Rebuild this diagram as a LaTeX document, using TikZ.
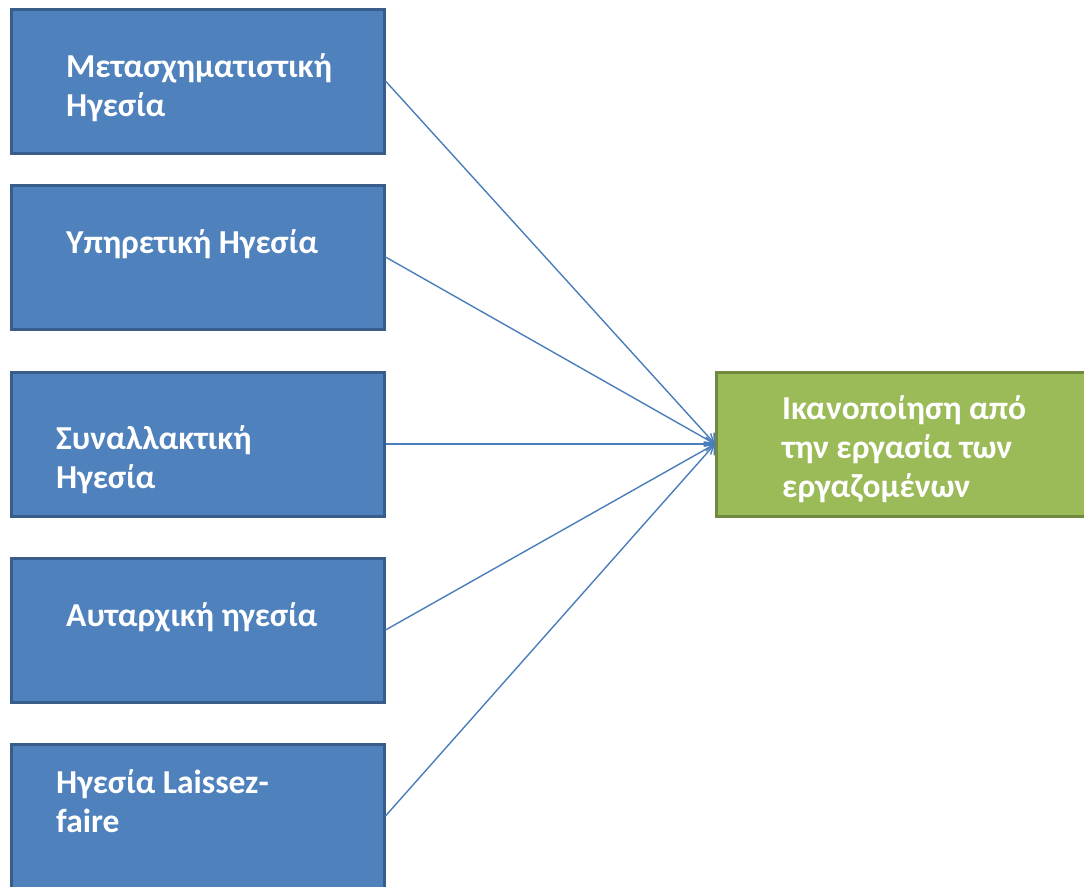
\documentclass[tikz,border=0pt]{standalone}
\usepackage{fontspec}
\setmainfont{Carlito}
\usepackage{xcolor}
\usetikzlibrary{arrows.meta,positioning}

\definecolor{boxblue}{HTML}{4F81BD}
\definecolor{boxblueline}{HTML}{385D8A}
\definecolor{boxgreen}{HTML}{9BBB59}
\definecolor{boxgreenline}{HTML}{71893F}
\definecolor{connblue}{HTML}{4A7EBB}

\tikzset{
    stylebox/.style={draw=boxblueline, fill=boxblue, line width=3pt, minimum width=373pt, minimum height=144pt},
    outcomebox/.style={draw=boxgreenline, fill=boxgreen, line width=3pt, minimum width=369pt, minimum height=144pt},
    lbl/.style={font=\fontsize{33.5}{39}\selectfont\bfseries, text=white, align=left, inner sep=0pt},
    conn/.style={draw=connblue, line width=1.4pt, -{Straight Barb[length=8pt,width=14pt,line width=1.4pt]}}
}

\begin{document}
\begin{tikzpicture}[x=1pt, y=-1pt]
    \useasboundingbox (0,0) rectangle (1084,886);

    % leadership styles
    \node[stylebox] (trans) at (197.5,81) {};
    \node[stylebox] (serv) at (197.5,257) {};
    \node[stylebox] (transa) at (197.5,444) {};
    \node[stylebox] (auto) at (197.5,630) {};
    \node[stylebox] (laissez) at (197.5,816) {};

    % outcome
    \node[outcomebox] (sat) at (901,444) {};

    % labels (base = last line)
    \node[lbl, anchor=base west] (transtxt) at (66,116) {Μετασχηματιστική\\Ηγεσία};
    \node[lbl, anchor=base west] (servtxt) at (66,253) {Υπηρετική Ηγεσία};
    \node[lbl, anchor=base west] (transatxt) at (56,488) {Συναλλακτική\\Ηγεσία};
    \node[lbl, anchor=base west] (autotxt) at (66,626) {Αυταρχική ηγεσία};
    \node[lbl, anchor=base west] (laissztxt) at (56,832) {Ηγεσία Laissez-\\faire};
    \node[lbl, anchor=base west] (sattxt) at (782,497) {Ικανοποίηση από\\την εργασία των\\εργαζομένων};

    % connectors
    \draw[conn] (trans.east) -- (sat.west);
    \draw[conn] (serv.east) -- (sat.west);
    \draw[conn] (transa.east) -- (sat.west);
    \draw[conn] (auto.east) -- (sat.west);
    \draw[conn] (laissez.east) -- (sat.west);
\end{tikzpicture}
\end{document}
